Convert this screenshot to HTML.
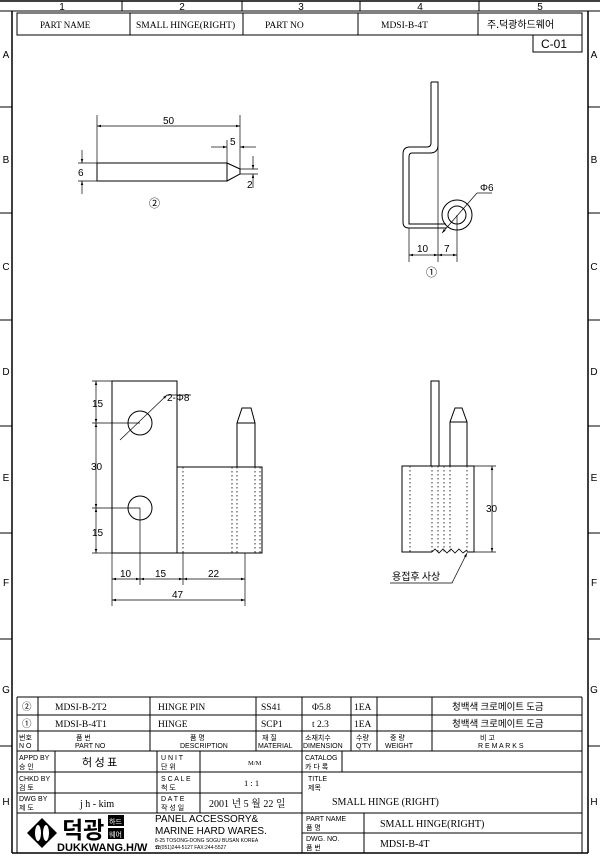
<!DOCTYPE html>
<html><head><meta charset="utf-8"><style>
html,body{margin:0;padding:0;background:#fff}
svg{display:block}
text{font-family:"Liberation Sans","Noto Sans CJK KR",sans-serif;fill:#000}
text.s,.s text{font-family:"Liberation Serif","Noto Serif CJK SC","Noto Sans CJK KR",serif}
text.k{font-family:"Noto Sans CJK KR",sans-serif}
</style></head><body>
<svg width="600" height="856" viewBox="0 0 600 856" xmlns="http://www.w3.org/2000/svg" stroke="#000" fill="none" stroke-width="1">
<defs>
<marker id="a" viewBox="0 0 10 10" refX="10" refY="5" markerWidth="6" markerHeight="6" orient="auto-start-reverse"><path d="M0,2 L10,5 L0,8 z" fill="#000" stroke="none"/></marker>
</defs>
<!-- frame -->
<line x1="0" y1="1" x2="600" y2="1" stroke-width="1.5"/>
<line x1="0" y1="11" x2="600" y2="11"/>
<line x1="12" y1="11" x2="12" y2="853" stroke-width="1.5"/>
<line x1="588" y1="11" x2="588" y2="853" stroke-width="1.5"/>
<line x1="12" y1="853" x2="588" y2="853" stroke-width="1.5"/>
<g stroke-width="1"><line x1="122" y1="1" x2="122" y2="11"/><line x1="242" y1="1" x2="242" y2="11"/><line x1="360" y1="1" x2="360" y2="11"/><line x1="479" y1="1" x2="479" y2="11"/></g>
<g font-size="10" stroke="none" fill="#000" text-anchor="middle">
<text x="62" y="10">1</text><text x="182" y="10">2</text><text x="301" y="10">3</text><text x="420" y="10">4</text><text x="540" y="10">5</text>
<text x="6" y="58">A</text><text x="594" y="58">A</text>
<text x="6" y="163">B</text><text x="594" y="163">B</text>
<text x="6" y="270">C</text><text x="594" y="270">C</text>
<text x="6" y="375">D</text><text x="594" y="375">D</text>
<text x="6" y="481">E</text><text x="594" y="481">E</text>
<text x="6" y="586">F</text><text x="594" y="586">F</text>
<text x="6" y="693">G</text><text x="594" y="693">G</text>
<text x="6" y="805">H</text><text x="594" y="805">H</text>
</g>
<g><line x1="0" y1="107" x2="12" y2="107"/><line x1="0" y1="213" x2="12" y2="213"/><line x1="0" y1="320" x2="12" y2="320"/><line x1="0" y1="426" x2="12" y2="426"/><line x1="0" y1="533" x2="12" y2="533"/><line x1="0" y1="639" x2="12" y2="639"/><line x1="0" y1="746" x2="12" y2="746"/>
<line x1="588" y1="107" x2="600" y2="107"/><line x1="588" y1="213" x2="600" y2="213"/><line x1="588" y1="320" x2="600" y2="320"/><line x1="588" y1="426" x2="600" y2="426"/><line x1="588" y1="533" x2="600" y2="533"/><line x1="588" y1="639" x2="600" y2="639"/><line x1="588" y1="746" x2="600" y2="746"/></g>
<!-- header -->
<rect x="17" y="13" width="565" height="22"/>
<line x1="130" y1="13" x2="130" y2="35"/><line x1="243" y1="13" x2="243" y2="35"/><line x1="358" y1="13" x2="358" y2="35"/><line x1="478" y1="13" x2="478" y2="35"/>
<g stroke="none" fill="#000" class="s">
<text x="40" y="28" font-size="9">PART NAME</text>
<text x="136" y="28" font-size="9.5">SMALL HINGE(RIGHT)</text>
<text x="265" y="28" font-size="9.5">PART NO</text>
<text x="381" y="28" font-size="9.5">MDSI-B-4T</text>
</g>
<text x="487" y="28" font-size="10" class="k" stroke="none">주.덕광하드웨어</text>
<rect x="533" y="35" width="49" height="17"/>
<text x="541" y="48" font-size="12" stroke="none" fill="#000">C-01</text>

<!-- part 2: pin -->
<g>
<rect x="97" y="163" width="130" height="18"/>
<path d="M227,163 L240,169 L240,174 L227,181"/>
<line x1="97" y1="115" x2="97" y2="163" stroke-width="0.7"/>
<line x1="240" y1="115" x2="240" y2="169" stroke-width="0.7"/>
<line x1="97" y1="126" x2="240" y2="126" stroke-width="0.7" marker-start="url(#a)" marker-end="url(#a)"/>
<line x1="227" y1="140" x2="227" y2="163" stroke-width="0.7"/>
<line x1="211" y1="147" x2="227" y2="147" stroke-width="0.7" marker-end="url(#a)"/>
<line x1="256" y1="147" x2="240" y2="147" stroke-width="0.7" marker-end="url(#a)"/>
<line x1="78" y1="163" x2="97" y2="163" stroke-width="0.7"/>
<line x1="78" y1="181" x2="97" y2="181" stroke-width="0.7"/>
<line x1="82" y1="150" x2="82" y2="163" stroke-width="0.7" marker-end="url(#a)"/>
<line x1="82" y1="194" x2="82" y2="181" stroke-width="0.7" marker-end="url(#a)"/>
<line x1="240" y1="169" x2="258" y2="169" stroke-width="0.7"/>
<line x1="240" y1="174" x2="258" y2="174" stroke-width="0.7"/>
<line x1="253" y1="156" x2="253" y2="169" stroke-width="0.7" marker-end="url(#a)"/>
<line x1="253" y1="188" x2="253" y2="174" stroke-width="0.7" marker-end="url(#a)"/>
</g>
<g font-size="10" stroke="none" fill="#000">
<text x="163" y="124">50</text><text x="230" y="145">5</text><text x="78" y="176">6</text><text x="247" y="188">2</text>
<text x="149" y="207" font-size="11">②</text>
</g>

<!-- part 1 side view -->
<g stroke-width="1">
<path d="M431,82 L438,82 L438,145 Q438,153 430,153 L412,153 Q409,153 409,157 L409,224 L446,224"/>
<path d="M431,82 L431,143 Q431,147 427,147 L410,147 Q403,147 403,154 L403,222 Q403,228 409,228 L446,228"/>
<line x1="438" y1="145" x2="438" y2="262" stroke-width="0.7"/>
<circle cx="457" cy="215" r="15"/>
<circle cx="457" cy="215" r="9"/>
<line x1="409" y1="228" x2="409" y2="262" stroke-width="0.7"/>
<line x1="457" y1="215" x2="457" y2="262" stroke-width="0.7"/>
<line x1="409" y1="255" x2="438" y2="255" stroke-width="0.7" marker-start="url(#a)" marker-end="url(#a)"/>
<line x1="438" y1="255" x2="457" y2="255" stroke-width="0.7" marker-start="url(#a)" marker-end="url(#a)"/>
<line x1="442" y1="233" x2="477" y2="193" stroke-width="0.7" marker-start="url(#a)"/>
<line x1="477" y1="193" x2="492" y2="193" stroke-width="0.7"/>
</g>
<g font-size="10" stroke="none" fill="#000">
<text x="480" y="191">Φ6</text><text x="417" y="252">10</text><text x="444" y="252">7</text>
<text x="426" y="276" font-size="11">①</text>
</g>

<!-- front view -->
<g>
<rect x="112" y="381" width="65" height="172"/>
<circle cx="140" cy="423" r="12"/><circle cx="140" cy="508" r="12"/>
<rect x="177" y="467" width="85" height="86"/>
<path d="M237,467 L237,423 L242,408 L251,408 L255,423 L255,467 M237,423 L255,423"/>
<g stroke-dasharray="1.5,2.5" stroke-width="0.8"><line x1="183" y1="467" x2="183" y2="553"/><line x1="232" y1="467" x2="232" y2="553"/><line x1="237" y1="467" x2="237" y2="553"/><line x1="255" y1="467" x2="255" y2="553"/><line x1="260" y1="467" x2="260" y2="553"/></g>
<g stroke-width="0.7">
<line x1="92" y1="381" x2="112" y2="381"/><line x1="92" y1="553" x2="112" y2="553"/>
<line x1="92" y1="423" x2="140" y2="423"/><line x1="92" y1="508" x2="140" y2="508"/>
<line x1="96" y1="381" x2="96" y2="423" marker-start="url(#a)" marker-end="url(#a)"/>
<line x1="96" y1="423" x2="96" y2="508" marker-start="url(#a)" marker-end="url(#a)"/>
<line x1="96" y1="508" x2="96" y2="553" marker-start="url(#a)" marker-end="url(#a)"/>
<line x1="112" y1="553" x2="112" y2="606"/><line x1="245" y1="553" x2="245" y2="606"/>
<line x1="140" y1="508" x2="140" y2="585"/><line x1="183" y1="553" x2="183" y2="585"/>
<line x1="112" y1="579" x2="140" y2="579" marker-start="url(#a)" marker-end="url(#a)"/>
<line x1="140" y1="579" x2="183" y2="579" marker-start="url(#a)" marker-end="url(#a)"/>
<line x1="183" y1="579" x2="245" y2="579" marker-start="url(#a)" marker-end="url(#a)"/>
<line x1="112" y1="600" x2="245" y2="600" marker-start="url(#a)" marker-end="url(#a)"/>
<line x1="120" y1="440" x2="167" y2="395" marker-end="url(#a)"/>
<line x1="167" y1="395" x2="191" y2="395"/>
</g>
</g>
<g font-size="10" stroke="none" fill="#000">
<text x="92" y="407">15</text><text x="91" y="470">30</text><text x="92" y="536">15</text>
<text x="167" y="401">2-Φ8</text>
<text x="120" y="577">10</text><text x="155" y="577">15</text><text x="208" y="577">22</text><text x="172" y="598">47</text>
</g>

<!-- side view right -->
<g>
<rect x="431" y="381" width="8" height="85"/>
<path d="M450,466 L450,422 L455,408 L462,408 L467,422 L467,466 M450,422 L467,422"/>
<path d="M432,552 L402,552 L402,466 L474,466 L474,552 L467,552"/>
<path d="M432,552 l3,-3 l4,4 l4,-4 l4,4 l4,-4 l4,4 l4,-4 l4,4 l4,-3" stroke-width="0.8"/>
<g stroke-dasharray="1.5,2.5" stroke-width="0.8"><line x1="410" y1="466" x2="410" y2="552"/><line x1="432" y1="466" x2="432" y2="552"/><line x1="438" y1="466" x2="438" y2="552"/><line x1="444" y1="466" x2="444" y2="552"/><line x1="450" y1="466" x2="450" y2="552"/><line x1="467" y1="466" x2="467" y2="552"/></g>
<g stroke-width="0.7">
<line x1="474" y1="466" x2="496" y2="466"/><line x1="474" y1="552" x2="496" y2="552"/>
<line x1="492" y1="466" x2="492" y2="552" marker-start="url(#a)" marker-end="url(#a)"/>
<path d="M467,553 L452,583 L390,583" marker-start="url(#a)"/>
</g>
</g>
<g font-size="10" stroke="none" fill="#000">
<text x="486" y="512">30</text>
<text x="392" y="580" class="k" font-size="10">용접후 사상</text>
</g>

<!-- title block -->
<g stroke-width="1">
<line x1="17" y1="697" x2="582" y2="697"/>
<line x1="17" y1="697" x2="17" y2="853"/><line x1="582" y1="697" x2="582" y2="853"/>
<line x1="17" y1="715" x2="582" y2="715"/><line x1="17" y1="731" x2="582" y2="731"/>
<line x1="17" y1="751" x2="582" y2="751"/>
<line x1="17" y1="772" x2="582" y2="772"/><line x1="17" y1="793" x2="302" y2="793"/>
<line x1="17" y1="813" x2="582" y2="813"/><line x1="302" y1="833" x2="582" y2="833"/>
<!-- parts list cols -->
<line x1="38" y1="697" x2="38" y2="751"/><line x1="150" y1="697" x2="150" y2="751"/><line x1="256" y1="697" x2="256" y2="751"/>
<line x1="302" y1="697" x2="302" y2="853"/><line x1="351" y1="697" x2="351" y2="751"/><line x1="377" y1="697" x2="377" y2="751"/><line x1="432" y1="697" x2="432" y2="751"/>
<!-- lower block cols -->
<line x1="55" y1="751" x2="55" y2="813"/><line x1="157" y1="751" x2="157" y2="813"/><line x1="200" y1="751" x2="200" y2="813"/>
<line x1="342" y1="751" x2="342" y2="772"/>
<line x1="364" y1="813" x2="364" y2="853"/>
</g>
<g font-size="9.5" stroke="none" fill="#000">
<text x="22" y="710">②</text><text x="22" y="727">①</text>
<g class="s" font-size="9.5"><text x="55" y="710">MDSI-B-2T2</text><text x="55" y="727">MDSI-B-4T1</text>
<text x="158" y="710">HINGE PIN</text><text x="158" y="727">HINGE</text>
<text x="261" y="710">SS41</text><text x="261" y="727">SCP1</text>
<text x="312" y="710">Φ5.8</text><text x="312" y="727">t 2.3</text>
<text x="354" y="710">1EA</text><text x="354" y="727">1EA</text></g>
<text x="452" y="710" font-size="9.5" class="k">청백색 크로메이트 도금</text>
<text x="452" y="727" font-size="9.5" class="k">청백색 크로메이트 도금</text>
<g font-size="7">
<text x="19" y="740">번호</text><text x="19" y="748">N O</text>
<text x="76" y="740">품   번</text><text x="75" y="748">PART  NO</text>
<text x="190" y="740">품    명</text><text x="180" y="748">DESCRIPTION</text>
<text x="262" y="740">재    질</text><text x="258" y="748">MATERIAL</text>
<text x="305" y="740">소재치수</text><text x="303" y="748">DIMENSION</text>
<text x="356" y="740">수량</text><text x="356" y="748">Q'TY</text>
<text x="390" y="740">중  량</text><text x="385" y="748">WEIGHT</text>
<text x="480" y="740">비      고</text><text x="478" y="748">R E M A R K S</text>
<text x="19" y="760">APPD BY</text><text x="19" y="769">승    인</text>
<text x="19" y="781">CHKD BY</text><text x="19" y="790">검    토</text>
<text x="19" y="801">DWG  BY</text><text x="19" y="810">제    도</text>
<text x="161" y="760">U N I T</text><text x="161" y="769">단    위</text>
<text x="161" y="781">S C A L E</text><text x="161" y="790">척    도</text>
<text x="161" y="801">D A T E</text><text x="161" y="810">작 성 일</text>
<text x="305" y="760">CATALOG</text><text x="305" y="769">카 다 록</text>
<text x="308" y="781">TITLE</text><text x="308" y="790">제목</text>
<text x="306" y="821">PART   NAME</text><text x="306" y="830">품          명</text>
<text x="306" y="841">DWG.      NO.</text><text x="306" y="850">품          번</text>
</g>
<text x="82" y="766" font-size="11" class="k">허   성   표</text>
<text x="248" y="765" font-size="6.5" class="s">M/M</text>
<text x="244" y="786" font-size="8.5" class="s">1 : 1</text>
<text x="80" y="807" font-size="10" class="s">j h - kim</text>
<text x="209" y="807" font-size="10" class="s">2001 년 5 월 22 일</text>
<text x="332" y="805" font-size="10" class="s">SMALL HINGE (RIGHT)</text>
<text x="380" y="827" font-size="10" class="s">SMALL HINGE(RIGHT)</text>
<text x="380" y="847" font-size="10" class="s">MDSI-B-4T</text>
<text x="155" y="822" font-size="10">PANEL ACCESSORY&amp;</text>
<text x="155" y="834" font-size="10">MARINE HARD WARES.</text>
<text x="155" y="842" font-size="5">8-25 TOSONG-DONG SOGU BUSAN KOREA</text>
<text x="155" y="849" font-size="5">☎(051)244-5127 FAX:244-5527</text>
</g>
<!-- logo -->
<path d="M42,818 L57,833 L42,848 L27,833 Z" fill="#000" stroke="none"/>
<ellipse cx="38" cy="833" rx="3" ry="8" fill="#fff" stroke="none"/>
<ellipse cx="46" cy="833" rx="3" ry="8" fill="#fff" stroke="none"/>
<text x="62" y="838" font-size="23" font-weight="bold" stroke="none" fill="#000" class="k">덕광</text>
<rect x="108" y="815" width="16" height="11" fill="#000" stroke="none"/><rect x="108" y="828" width="16" height="11" fill="#000" stroke="none"/>
<text x="109" y="824" font-size="7" style="fill:#fff" stroke="none" class="k">하드</text>
<text x="109" y="837" font-size="7" style="fill:#fff" stroke="none" class="k">웨어</text>
<text x="57" y="851" font-size="11" font-weight="bold" stroke="none" fill="#000">DUKKWANG.H/W</text>
</svg>
</body></html>
